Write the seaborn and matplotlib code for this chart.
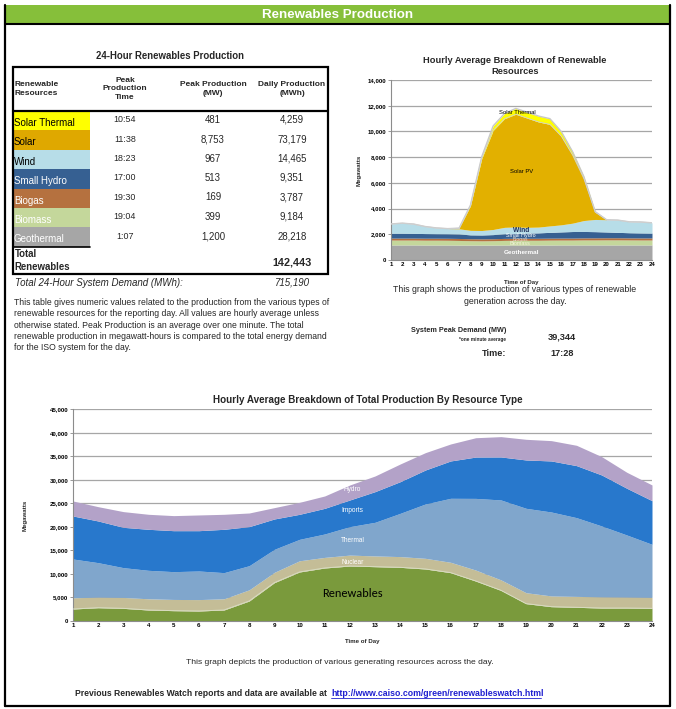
import matplotlib
matplotlib.use("Agg")
import matplotlib.pyplot as plt
from matplotlib.patches import Rectangle
import numpy as np
import pandas as pd
import seaborn as sns

# ---------------- data ----------------
hours = list(range(1, 25))

# Table
resources = ["Solar Thermal", "Solar", "Wind", "Small Hydro", "Biogas", "Biomass", "Geothermal"]
peak_times = ["10:54", "11:38", "18:23", "17:00", "19:30", "19:04", "1:07"]
peak_mw = ["481", "8,753", "967", "513", "169", "399", "1,200"]
daily_mwh = ["4,259", "73,179", "14,465", "9,351", "3,787", "9,184", "28,218"]
total_renewables = "142,443"
system_demand = "715,190"
peak_demand = "39,344"
peak_demand_time = "17:28"

# Renewables breakdown (MW), stacked bottom -> top
geothermal = [1170, 1170, 1170, 1165, 1165, 1165, 1160, 1160, 1160, 1160, 1165, 1165,
              1165, 1165, 1165, 1170, 1170, 1170, 1170, 1170, 1170, 1170, 1170, 1170]
biomass = [380, 380, 380, 375, 375, 370, 360, 340, 330, 340, 360, 370,
           370, 370, 380, 380, 380, 390, 390, 395, 395, 390, 385, 385]
biogas = [155, 155, 155, 155, 155, 155, 155, 155, 155, 155, 155, 155,
          155, 155, 155, 155, 155, 160, 165, 165, 165, 160, 160, 160]
small_hydro = [380, 380, 370, 360, 350, 350, 350, 300, 300, 320, 360, 380,
               400, 420, 450, 480, 510, 500, 480, 450, 420, 400, 390, 380]
wind = [720, 780, 720, 550, 450, 400, 400, 350, 350, 400, 500, 500,
        450, 450, 500, 550, 650, 850, 950, 950, 950, 850, 850, 800]
solar_pv = [0, 0, 0, 0, 0, 0, 50, 1900, 5600, 7700, 8450, 8770,
            8500, 8180, 7900, 6900, 5300, 3250, 570, 0, 0, 0, 0, 0]
solar_thermal = [0, 0, 0, 0, 0, 0, 0, 60, 150, 350, 400, 450,
                 455, 455, 445, 365, 265, 160, 35, 0, 0, 0, 0, 0]

# Total production by resource type (MW), stacked bottom -> top
renewables = [2550, 2830, 2690, 2340, 2200, 2130, 2340, 4250, 8150, 10420, 11270, 11690,
              11550, 11410, 11060, 10280, 8500, 6520, 3690, 3050, 2910, 2760, 2760, 2690]
nuclear = [2380, 2250, 2320, 2380, 2380, 2420, 2380, 2380, 2200, 2380, 2250, 2320,
           2280, 2280, 2260, 2200, 2320, 2220, 2320, 2280, 2320, 2380, 2340, 2340]
thermal = [8250, 7320, 6330, 6050, 5910, 6080, 5560, 5130, 4890, 4560, 4980, 6050,
           7150, 9200, 11560, 13600, 15240, 16990, 17940, 17840, 16740, 15060, 13180, 11270]
imports = [9140, 8860, 8570, 8720, 8710, 8570, 9210, 8300, 6450, 5320, 5450, 5670,
           6520, 6730, 7220, 7940, 8790, 9140, 10280, 10850, 11060, 10840, 9930, 9280]
hydro = [3190, 3040, 3340, 3190, 3200, 3340, 3190, 2900, 2410, 2550, 2630, 3190,
         3330, 3760, 3690, 3610, 4110, 4320, 4390, 4320, 4320, 3900, 3400, 3340]

# ---------------- style ----------------
sns.set_theme(style="white")
plt.rcParams["font.family"] = ["Liberation Sans", "DejaVu Sans"]

W, H = 676, 709
fig = plt.figure(figsize=(W / 100, H / 100), dpi=100)
fig.patch.set_facecolor("white")

# overlay in pixel coords
ov = fig.add_axes([0, 0, 1, 1])
ov.set_xlim(0, W)
ov.set_ylim(H, 0)
ov.axis("off")

# page border and header
ov.add_patch(Rectangle((5, 5), 665, 18, facecolor="#86bf3a", edgecolor="none"))
ov.plot([5, 670], [23.5, 23.5], color="black", lw=1.5)
ov.plot([5, 5], [5, 706], color="black", lw=1.6)
ov.plot([670, 670], [5, 706], color="black", lw=1.6)
ov.plot([5, 670], [706, 706], color="black", lw=1.6)
ov.text(337.5, 14.5, "Renewables Production", color="white", fontsize=9.6,
        fontweight="bold", ha="center", va="center")

# ---- table ----
ov.text(170, 56, "24-Hour Renewables Production", fontsize=6.9, fontweight="bold",
        ha="center", va="center")
tx0, tx1 = 13, 328
ty0, thead, row_h = 67, 111, 19.4
col_c = [125, 213, 292]
first_w = 77
hdr = dict(fontsize=6.0, fontweight="bold", va="center", linespacing=1.3)
ov.text(14.5, 89, "Renewable\nResources", ha="left", **hdr)
ov.text(col_c[0], 89, "Peak\nProduction\nTime", ha="center", **hdr)
ov.text(col_c[1], 89, "Peak Production\n(MW)", ha="center", **hdr)
ov.text(col_c[2], 89, "Daily Production\n(MWh)", ha="center", **hdr)

cell_colors = ["#ffff00", "#dfa800", "#b7dde8", "#366092", "#b5713f", "#c4d79b", "#a6a6a6"]
text_colors = ["black", "black", "black", "white", "white", "white", "white"]
for i, name in enumerate(resources):
    y0 = thead + i * row_h
    ov.add_patch(Rectangle((tx0, y0), first_w, row_h, facecolor=cell_colors[i],
                           edgecolor="none"))
    ov.text(tx0 + 1.0, y0 + row_h * 0.62, name, fontsize=7.0, color=text_colors[i],
            ha="left", va="center")
    ov.text(col_c[0], y0 + row_h * 0.45, peak_times[i], fontsize=6.4, ha="center", va="center")
    ov.text(col_c[1], y0 + row_h * 0.45, peak_mw[i], fontsize=6.9, ha="center", va="center")
    ov.text(col_c[2], y0 + row_h * 0.45, daily_mwh[i], fontsize=6.9, ha="center", va="center")
geo_bottom = thead + len(resources) * row_h
ov.plot([tx0, tx0 + first_w], [geo_bottom, geo_bottom], color="black", lw=1.2)
tb = 273.5
ov.text(14.5, geo_bottom + 7, "Total", fontsize=6.9, fontweight="bold", ha="left", va="center")
ov.text(14.5, geo_bottom + 20, "Renewables", fontsize=6.9, fontweight="bold", ha="left", va="center")
ov.text(col_c[2], geo_bottom + 16, total_renewables, fontsize=7.8, fontweight="bold",
        ha="center", va="center")
ov.add_patch(Rectangle((tx0, ty0), tx1 - tx0, tb - ty0, facecolor="none",
                       edgecolor="black", lw=1.6))
ov.plot([tx0, tx1], [thead, thead], color="black", lw=1.6)

ov.text(15, 282.5, "Total 24-Hour System Demand (MWh):", fontsize=7.0, style="italic",
        ha="left", va="center")
ov.text(292, 282.5, system_demand, fontsize=7.0, style="italic", ha="center", va="center")
para = ["This table gives numeric values related to the production from the various types of",
        "renewable resources for the reporting day. All values are hourly average unless",
        "otherwise stated. Peak Production is an average over one minute. The total",
        "renewable production in megawatt-hours is compared to the total energy demand",
        "for the ISO system for the day."]
for k, line in enumerate(para):
    ov.text(14.5, 302.5 + k * 11.3, line, fontsize=6.2, ha="left", va="center")

# ---- peak demand block ----
ov.text(506, 331, "System Peak Demand (MW)", fontsize=5.2, fontweight="bold", ha="right", va="center")
ov.text(506, 339.5, "*one minute average", fontsize=3.4, fontweight="bold", ha="right", va="center")
ov.text(562, 337, peak_demand, fontsize=6.6, fontweight="bold", ha="center", va="center")
ov.text(506, 354, "Time:", fontsize=6.6, fontweight="bold", ha="right", va="center")
ov.text(562, 354, peak_demand_time, fontsize=6.6, fontweight="bold", ha="center", va="center")

# ---- captions ----
ov.text(515, 60.5, "Hourly Average Breakdown of Renewable", fontsize=6.7, fontweight="bold",
        ha="center", va="center")
ov.text(515, 71.5, "Resources", fontsize=6.7, fontweight="bold", ha="center", va="center")
ov.text(515, 290, "This graph shows the production of various types of renewable",
        fontsize=6.3, ha="center", va="center")
ov.text(515, 301, "generation across the day.", fontsize=6.3, ha="center", va="center")
ov.text(368, 400, "Hourly Average Breakdown of Total Production By Resource Type",
        fontsize=7.1, fontweight="bold", ha="center", va="center")
ov.text(340, 663, "This graph depicts the production of various generating resources across the day.",
        fontsize=6.1, ha="center", va="center")
ov.text(75, 693, "Previous Renewables Watch reports and data are available at",
        fontsize=6.2, fontweight="bold", ha="left", va="center")
ov.text(331, 693, "http://www.caiso.com/green/renewableswatch.html", fontsize=6.3,
        fontweight="bold", color="#1f1fd0", ha="left", va="center")
ov.plot([331, 541], [697.5, 697.5], color="#1f1fd0", lw=0.6)


def style_axes(ax, ymax, ystep):
    ax.set_xlim(1, 24)
    ax.set_ylim(0, ymax)
    ax.set_xticks(hours)
    ax.set_yticks(np.arange(0, ymax + 1, ystep))
    ax.set_yticklabels([f"{int(v):,}" for v in np.arange(0, ymax + 1, ystep)])
    ax.tick_params(axis="both", labelsize=4.4, length=2, width=0.6, color="#888888",
                   pad=1.5, colors="black")
    for lab in ax.get_xticklabels() + ax.get_yticklabels():
        lab.set_fontweight("bold")
    ax.tick_params(axis="x", direction="out", bottom=True, length=0)
    ax.tick_params(axis="y", direction="out", left=True)
    ax.grid(axis="y", color="#a6a6a6", lw=0.9)
    ax.grid(axis="x", visible=False)
    ax.set_axisbelow(True)
    for s in ["top", "right"]:
        ax.spines[s].set_visible(False)
    for s in ["left", "bottom"]:
        ax.spines[s].set_color("#8c8c8c")
        ax.spines[s].set_linewidth(0.8)
    ax.set_facecolor("white")


# ---- top-right renewables chart ----
ax1 = fig.add_axes([391 / W, (H - 260) / H, (652 - 391) / W, 180 / H])
ren_layers = [geothermal, biomass, biogas, small_hydro, wind, solar_pv, solar_thermal]
ren_colors = ["#a6a6a6", "#c4d79b", "#b5713f", "#366092", "#b7dde8", "#e2b000", "#ffff00"]
df_ren = pd.DataFrame(np.array(ren_layers).T, index=hours,
                      columns=["Geothermal", "Biomass", "Biogas", "Small Hydro", "Wind",
                               "Solar PV", "Solar Thermal"])
cum = df_ren.cumsum(axis=1)
prev = np.zeros(len(hours))
for col, c in zip(df_ren.columns, ren_colors):
    ax1.fill_between(hours, prev, cum[col].values, color=c, lw=0, zorder=2)
    prev = cum[col].values
sns.lineplot(x=hours, y=cum["Solar Thermal"].values, ax=ax1, color="#c8c8c8", lw=1.0, zorder=3)
sns.lineplot(x=hours, y=cum["Solar PV"].values, ax=ax1, color="#d0d0d0", lw=0.6, zorder=3)
style_axes(ax1, 14000, 2000)
ax1.set_xlabel("Time of Day", fontsize=4.4, fontweight="bold", labelpad=9)
ax1.set_ylabel("Megawatts", fontsize=4.4, fontweight="bold", labelpad=4)
lab1 = dict(fontsize=4.2, ha="center", va="center", zorder=5)
ax1.text(12.1, 11450, "Solar Thermal", color="black", **lab1)
ax1.text(12.5, 6900, "Solar PV", color="black", **lab1)
ax1.text(12.5, 2300, "Wind", color="#1f2f5a", fontweight="bold", fontsize=4.8,
         ha="center", va="center", zorder=5)
ax1.text(12.4, 1920, "Small Hydro", color="white", fontsize=3.9, ha="center",
         va="center", zorder=5)
ax1.text(12.4, 1600, "Biogas", color="#e8d8c8", fontsize=3.6, ha="center",
         va="center", zorder=5)
ax1.text(12.4, 1290, "Biomass", color="#f4f4e0", fontsize=3.9, ha="center",
         va="center", zorder=5)
ax1.text(12.5, 560, "Geothermal", color="white", fontweight="bold", fontsize=4.6,
         ha="center", va="center", zorder=5)

# ---- bottom total production chart ----
ax2 = fig.add_axes([73 / W, (H - 621) / H, (652 - 73) / W, (621 - 409.3) / H])
tot_layers = [renewables, nuclear, thermal, imports, hydro]
tot_colors = ["#7a9a3c", "#c4bd97", "#80a6cc", "#2878cc", "#b3a2c8"]
df_tot = pd.DataFrame(np.array(tot_layers).T, index=hours,
                      columns=["Renewables", "Nuclear", "Thermal", "Imports", "Hydro"])
cum2 = df_tot.cumsum(axis=1)
prev = np.zeros(len(hours))
for col, c in zip(df_tot.columns, tot_colors):
    ax2.fill_between(hours, prev, cum2[col].values, color=c, lw=0, zorder=2)
    prev = cum2[col].values
sns.lineplot(x=hours, y=cum2["Renewables"].values, ax=ax2, color="#d8dcc0", lw=0.7, zorder=3)
style_axes(ax2, 45000, 5000)
ax2.set_xlabel("Time of Day", fontsize=4.4, fontweight="bold", labelpad=8)
ax2.set_ylabel("Megawatts", fontsize=4.4, fontweight="bold", labelpad=16)
lab2 = dict(fontsize=4.7, color="white", ha="center", va="center", zorder=5)
ax2.text(12.1, 28000, "Hydro", **lab2)
ax2.text(12.1, 23400, "Imports", **lab2)
ax2.text(12.1, 17100, "Thermal", **lab2)
ax2.text(12.1, 12500, "Nuclear", **lab2)
ax2.text(12.1, 5800, "Renewables", fontsize=8.8, color="black", ha="center", va="center",
         zorder=5, family=["Carlito", "Lato", "DejaVu Sans"])

fig.savefig("out.png", dpi=100, facecolor="white")
